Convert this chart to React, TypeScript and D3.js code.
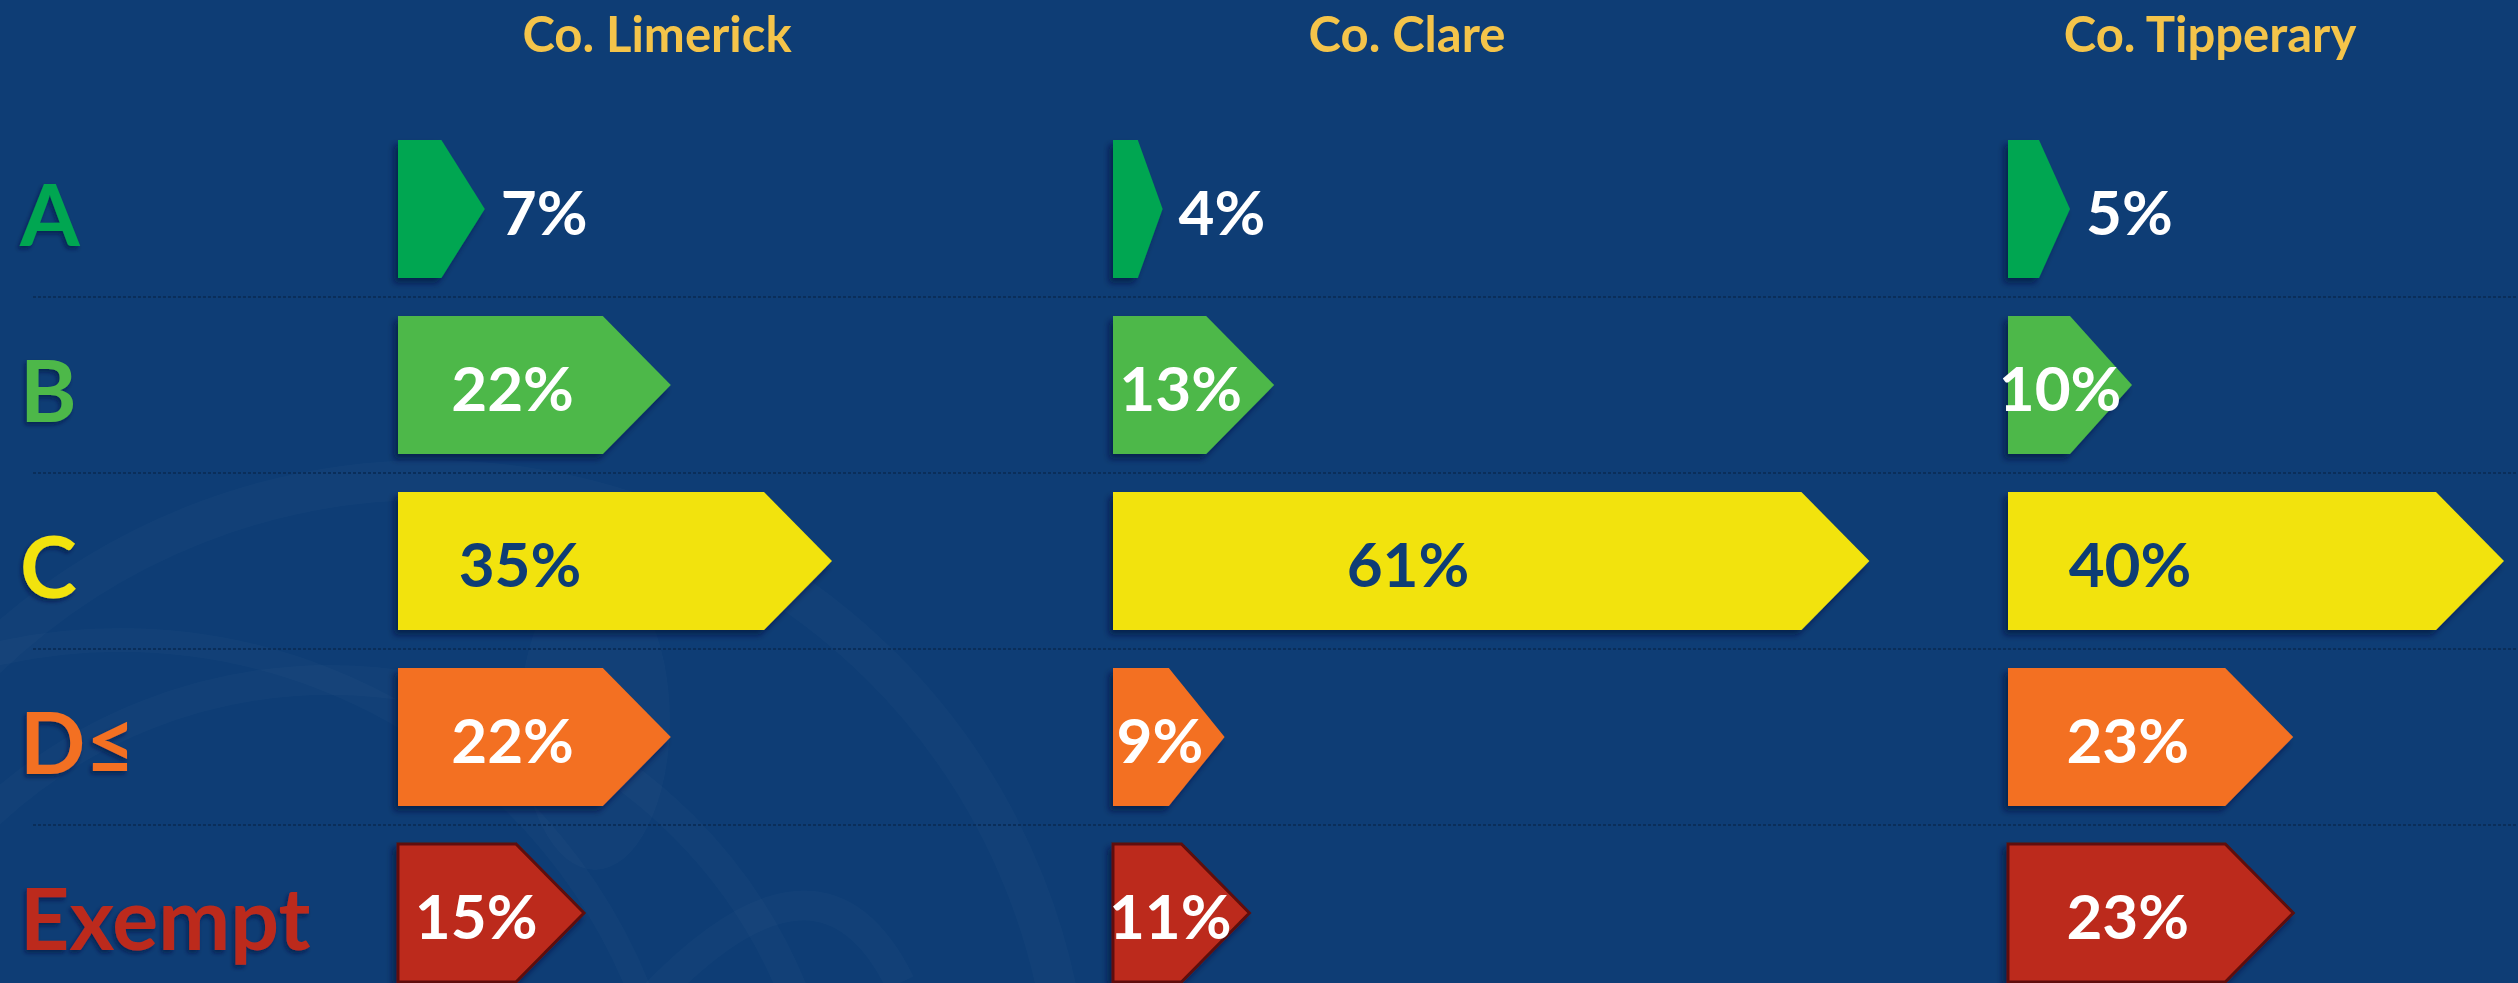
import React, { useRef, useEffect } from "react";
import * as d3 from "d3";

const counties = ["Co. Limerick", "Co. Clare", "Co. Tipperary"];
const ratings = ["A", "B", "C", "D≤", "Exempt"];
const limerick = [7, 22, 35, 22, 15];
const clare = [4, 13, 61, 9, 11];
const tipperary = [5, 10, 40, 23, 23];

const ratingColors = ["#00a651", "#4db848", "#f2e30a", "#f37021", "#bc2c1c"];
const labelColors = ["#ffffff", "#ffffff", "#0e3d75", "#ffffff", "#ffffff"];

const W = 2518;
const H = 983;

const App = () => {
  const ref = useRef<SVGSVGElement>(null);

  useEffect(() => {
    document.body.style.margin = "0";
    const svg = d3.select(ref.current);
    svg.selectAll("*").remove();

    const series = [limerick, clare, tipperary];

    const y = d3
      .scaleBand()
      .domain(ratings)
      .range([121, 121 + 5 * 176])
      .paddingInner(0.216)
      .paddingOuter(0.108);
    const x = d3.scaleLinear().domain([0, 100]).range([0, 1240]);
    // where each county's bars begin, and where its heading sits
    const colStart = d3.scaleOrdinal<string, number>().domain(counties).range([398, 1113, 2008]);
    const colHead = d3.scaleOrdinal<string, number>().domain(counties).range([657, 1407, 2210]);
    const color = d3.scaleOrdinal<string, string>().domain(ratings).range(ratingColors);
    const textColor = d3.scaleOrdinal<string, string>().domain(ratings).range(labelColors);

    const defs = svg.append("defs");
    const f = defs
      .append("filter")
      .attr("id", "shadow")
      .attr("x", "-20%")
      .attr("y", "-20%")
      .attr("width", "140%")
      .attr("height", "140%");
    f.append("feDropShadow")
      .attr("dx", -4)
      .attr("dy", 5)
      .attr("stdDeviation", 3)
      .attr("flood-color", "#05183a")
      .attr("flood-opacity", 0.65);
    const f2 = defs.append("filter").attr("id", "tshadow");
    f2.append("feDropShadow")
      .attr("dx", -2)
      .attr("dy", 3)
      .attr("stdDeviation", 2)
      .attr("flood-color", "#05183a")
      .attr("flood-opacity", 0.6);

    svg.append("rect").attr("width", W).attr("height", H).attr("fill", "#0e3d75");

    // faint swirl decoration in the background
    const deco = svg.append("g").attr("fill", "none").attr("stroke", "#ffffff").attr("stroke-opacity", 0.018);
    deco.append("circle").attr("cx", 430).attr("cy", 1120).attr("r", 640).attr("stroke-width", 40);
    deco.append("circle").attr("cx", 330).attr("cy", 1180).attr("r", 500).attr("stroke-width", 30);
    deco.append("circle").attr("cx", 120).attr("cy", 1200).attr("r", 560).attr("stroke-width", 24);
    deco.append("ellipse").attr("cx", 595).attr("cy", 720).attr("rx", 75).attr("ry", 150).attr("fill", "#ffffff").attr("fill-opacity", 0.02).attr("stroke", "none");
    deco.append("path").attr("d", "M 650 1000 Q 820 820 900 983").attr("stroke-width", 30);

    // dashed row separators
    svg
      .append("g")
      .selectAll("line")
      .data(ratings.slice(1))
      .join("line")
      .attr("x1", 33)
      .attr("x2", W)
      .attr("y1", (d) => y(d)! - (y.step() - y.bandwidth()) / 2)
      .attr("y2", (d) => y(d)! - (y.step() - y.bandwidth()) / 2)
      .attr("stroke", "#0a2e5a")
      .attr("stroke-width", 2)
      .attr("stroke-dasharray", "3 2");

    // column headings
    svg
      .append("g")
      .selectAll("text")
      .data(counties)
      .join("text")
      .attr("x", (d) => colHead(d))
      .attr("y", 52)
      .attr("text-anchor", "middle")
      .attr("font-family", "Lato")
      .attr("font-weight", 700)
      .attr("font-size", 49)
      .attr("fill", "#f4c44a")
      .text((d) => d);

    // rating labels on the left
    svg
      .append("g")
      .selectAll("text")
      .data(ratings)
      .join("text")
      .attr("x", 20)
      .attr("y", (d) => y(d)! + y.bandwidth() / 2 + 37)
      .attr("font-family", "Lato")
      .attr("font-weight", 700)
      .attr("font-size", 86)
      .attr("fill", (d) => color(d))
      .attr("filter", "url(#tshadow)")
      .text((d) => d);

    const cells = counties.flatMap((c, ci) =>
      ratings.map((r, ri) => ({ county: c, rating: r, value: series[ci][ri] }))
    );

    const arrow = (d: { county: string; rating: string; value: number }) => {
      const x0 = colStart(d.county);
      const len = x(d.value);
      const tip = Math.min(68, len / 2);
      const y0 = y(d.rating)!;
      const h = y.bandwidth();
      const p = d3.path();
      p.moveTo(x0, y0);
      p.lineTo(x0 + len - tip, y0);
      p.lineTo(x0 + len, y0 + h / 2);
      p.lineTo(x0 + len - tip, y0 + h);
      p.lineTo(x0, y0 + h);
      p.closePath();
      return p.toString();
    };

    svg
      .append("g")
      .selectAll("path")
      .data(cells)
      .join("path")
      .attr("d", arrow)
      .attr("fill", (d) => color(d.rating))
      .attr("stroke", (d) => (d.rating === "Exempt" ? "#5e0f08" : "none"))
      .attr("stroke-width", 3)
      .attr("filter", "url(#shadow)");

    svg
      .append("g")
      .selectAll("text")
      .data(cells)
      .join("text")
      .attr("x", (d) => {
        const x0 = colStart(d.county);
        const len = x(d.value);
        if (d.value < 8) return x0 + len + 16;
        return x0 + (len > 600 ? len * 0.39 : Math.min(len * 0.42, 122));
      })
      .attr("y", (d) => y(d.rating)! + y.bandwidth() / 2 + 4)
      .attr("dy", "0.35em")
      .attr("text-anchor", (d) => (d.value < 8 ? "start" : "middle"))
      .attr("font-family", "Lato")
      .attr("font-weight", 700)
      .attr("font-size", 62)
      .attr("fill", (d) => (d.value < 8 ? "#ffffff" : textColor(d.rating)))
      .text((d) => `${d.value}%`);
  }, []);

  return (
    <svg
      ref={ref}
      width={W}
      height={H}
      style={{ position: "absolute", left: 0, top: 0, display: "block" }}
    />
  );
};

export default App;
